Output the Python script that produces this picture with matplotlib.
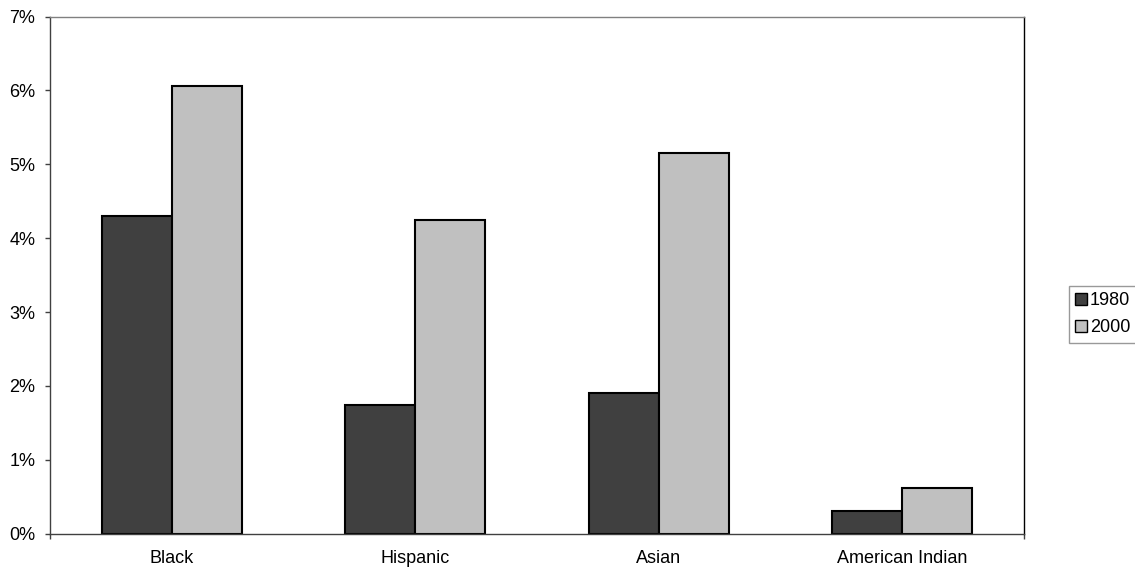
from matplotlib import pyplot as plt
import numpy as np

# share of population, by group
groups = ["Black", "Hispanic", "Asian", "American Indian"]
years = ["1980", "2000"]
share_1980 = [4.30, 1.74, 1.91, 0.31]
share_2000 = [6.06, 4.24, 5.15, 0.62]
yticks = [0, 1, 2, 3, 4, 5, 6, 7]

plt.rcParams['font.family'] = ['Liberation Sans', 'DejaVu Sans']

fig = plt.figure(figsize=(11.35, 5.71), dpi=100)
ax = fig.add_axes([50/1135, 1 - 533.7/571, 974/1135, 517.2/571])

x = np.arange(len(groups))
w = 0.2875
ax.bar(x - w/2, share_1980, w, color="#404040", edgecolor="black", linewidth=1.5, label=years[0])
ax.bar(x + w/2, share_2000, w, color="#c0c0c0", edgecolor="black", linewidth=1.5, label=years[1])

ax.set_xlim(-0.5, len(groups) - 0.5)
ax.set_ylim(0, 7)
ax.set_yticks(yticks)
ax.set_yticklabels([str(t) + "%" for t in yticks])

# ticks only at the two ends, labels in the middle
ax.set_xticks([-0.5, len(groups) - 0.5])
ax.set_xticklabels([])
ax.set_xticks(x, minor=True)
ax.set_xticklabels(groups, minor=True)
ax.tick_params(axis="x", which="minor", length=0, pad=12, labelsize=13)
ax.tick_params(axis="x", which="major", length=3.5, width=1, color="#404040")
ax.tick_params(axis="y", length=3.5, width=1, color="#404040", pad=7, labelsize=13)

for side in ["left", "bottom"]:
    ax.spines[side].set_color("#404040")
    ax.spines[side].set_linewidth(1)
ax.spines["right"].set_color("black")
ax.spines["right"].set_linewidth(1)
ax.spines["top"].set_color("#808080")
ax.spines["top"].set_linewidth(1)

leg = fig.legend(loc="upper left", bbox_to_anchor=(1069/1135, 1 - 286/571),
                 borderaxespad=0, fontsize=13, frameon=True, fancybox=False,
                 handlelength=0.65, handleheight=0.65, handletextpad=0.15,
                 borderpad=0.35, labelspacing=0.55)
leg.get_frame().set_edgecolor("#808080")
leg.get_frame().set_linewidth(1)
for h in leg.legend_handles:
    h.set_linewidth(1)

plt.savefig("out.png", dpi=100)
